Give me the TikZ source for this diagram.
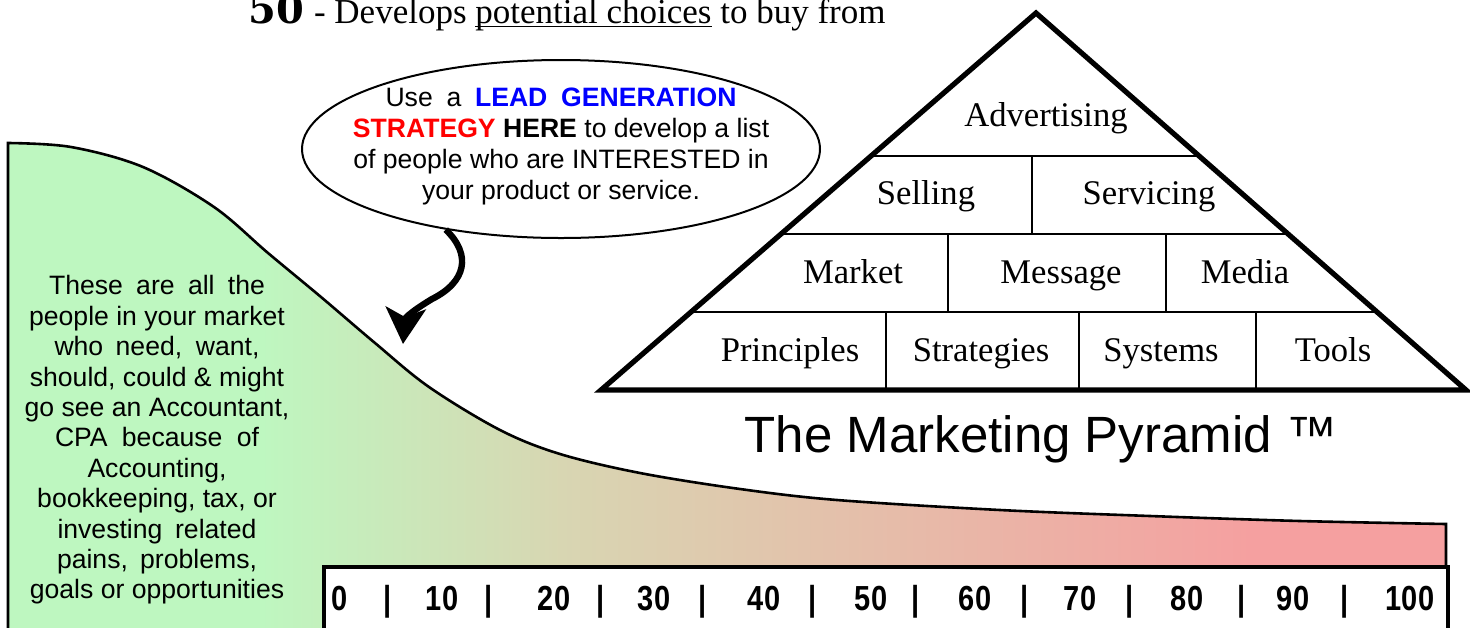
\documentclass[tikz,border=0pt]{standalone}
\usepackage{fontspec}
\setmainfont{Liberation Serif}
\newfontfamily\arialf{Liberation Sans}
\newfontfamily\slabf{DejaVu Serif}
\usetikzlibrary{shapes.geometric,arrows.meta,calc}
\definecolor{gcol}{RGB}{190,247,192}
\definecolor{mcol}{RGB}{216,214,178}
\definecolor{pcol}{RGB}{245,160,160}
\definecolor{leadblue}{RGB}{0,0,255}
\definecolor{leadred}{RGB}{255,0,0}
\newcommand\myul[1]{\setbox0\hbox{#1}\rlap{\rule[-2.2pt]{\wd0}{0.8pt}}\box0\relax}
\begin{document}
\begin{tikzpicture}[x=0.5pt,y=-0.5pt,
  pyrlabel/.style={font=\fontsize{17.3}{20}\selectfont, anchor=base, inner sep=0pt},
  numlabel/.style={font=\arialf\bfseries\fontsize{14.5}{16}\selectfont, anchor=base, inner sep=0pt},
  bodytext/.style={font=\arialf\fontsize{13.3}{15.2}\selectfont, align=center, inner sep=0pt},
  outline/.style={line width=1.3pt},
  pyrline/.style={line width=1.4pt},
  pyrouter/.style={line width=2.6pt, line join=miter}]
\useasboundingbox (0,0) rectangle (1470,627);
% shaded market curve
\begin{scope}
  \clip (8,650) -- plot[smooth,tension=0.55] coordinates {(8,143) (71,147) (143,167) (214,207) (268,253) (321,297) (375,343) (429,387) (500,430) (560,454) (640,473) (740,489) (837,500) (1000,510) (1150,516) (1300,521) (1446,524)} -- (1446,650) -- cycle;
  \fill[gcol] (0,100) rectangle (262,660);
  \shade[left color=gcol, right color=mcol] (260,100) rectangle (562,660);
  \shade[left color=mcol, right color=pcol] (560,100) rectangle (1252,660);
  \fill[pcol] (1250,100) rectangle (1470,660);
\end{scope}
\draw[outline] (8,650) -- plot[smooth,tension=0.55] coordinates {(8,143) (71,147) (143,167) (214,207) (268,253) (321,297) (375,343) (429,387) (500,430) (560,454) (640,473) (740,489) (837,500) (1000,510) (1150,516) (1300,521) (1446,524)} -- (1446,600);
% number bar
\draw[line width=2pt, fill=white] (324,567) rectangle (1448,660);
\foreach \x/\t in {340/0, 388/|, 442/10, 489/|, 554/20, 601/|, 654/30, 703/|, 764/40, 813/|, 871/50, 916/|, 975/60, 1025/|, 1080/70, 1130/|, 1187/80, 1242/|, 1293/90, 1345/|, 1410/100}
  \node[numlabel] (num\x) at (\x,610) {\scalebox{1}[1.2]{\t}};
% left text
\node[bodytext] (lefttext) at (157,440) {\makebox[108pt][s]{These are all the}\\
people in your market\\
\makebox[102.5pt][s]{who need, want,}\\
should, could \& might\\
go see an Accountant,\\
\makebox[102pt][s]{CPA because of}\\
Accounting,\\
bookkeeping, tax, or\\
\makebox[99.5pt][s]{investing related}\\
\makebox[100pt][s]{pains, problems,}\\
goals or opportunities};
% bubble
\node[ellipse, draw, line width=1pt, fill=white, minimum width=259pt, minimum height=89pt, inner sep=0pt] (bubble) at (561,149) {};
\node[bodytext, font=\arialf\fontsize{13.3}{15.5}\selectfont] (bubbletext) at (561,146) {\makebox[175.5pt][s]{Use a {\bfseries\color{leadblue}LEAD GENERATION}}\\
{\bfseries\color{leadred}STRATEGY} \textbf{HERE} to develop a list\\
of people who are INTERESTED in\\
your product or service.};
\coordinate (tip) at (403,344);
\draw[line width=3.2pt, -{Stealth[length=18pt,width=20pt,inset=4.5pt]}] (bubble.215) .. controls (472,255) and (466,282) .. (432,299) .. controls (412,311) and (405,318) .. (tip);
% pyramid
\coordinate (apex) at (1036,13);
\coordinate (bl) at (601,390);
\coordinate (br) at (1466,390);
\draw[pyrline] ($(apex)!0.3793!(bl)$) -- ($(apex)!0.3793!(br)$);
\draw[pyrline] ($(apex)!0.5862!(bl)$) -- ($(apex)!0.5862!(br)$);
\draw[pyrline] ($(apex)!0.7931!(bl)$) -- ($(apex)!0.7931!(br)$);
\draw[pyrline] (1032,156) -- (1032,234);
\draw[pyrline] (948,234) -- (948,312);
\draw[pyrline] (1166,234) -- (1166,312);
\draw[pyrline] (886,312) -- (886,390);
\draw[pyrline] (1079,312) -- (1079,390);
\draw[pyrline] (1256,312) -- (1256,390);
\draw[pyrouter] (apex) -- (bl) -- (br) -- cycle;
\node[pyrlabel] (advertising) at (1046,126) {Advertising};
\node[pyrlabel] (selling) at (926,204) {Selling};
\node[pyrlabel] (servicing) at (1149,204) {Servicing};
\node[pyrlabel] (market) at (853,283) {Market};
\node[pyrlabel] (message) at (1061,283) {Message};
\node[pyrlabel] (media) at (1245,283) {Media};
\node[pyrlabel] (principles) at (790,361) {Principles};
\node[pyrlabel] (strategies) at (981,361) {Strategies};
\node[pyrlabel] (systems) at (1161,361) {Systems};
\node[pyrlabel] (tools) at (1333,361) {Tools};
\node[font=\arialf\fontsize{25.5}{30}\selectfont, anchor=base, inner sep=0pt] (title) at (1041,452) {The Marketing Pyramid ™};
% heading
\node[anchor=base west, inner sep=0pt] (heading) at (248,23) {{\slabf\bfseries\fontsize{20}{20}\selectfont 50}\hspace{5pt}{\fontsize{17.5}{20}\selectfont - Develops \myul{potential choices} to buy from}};
\end{tikzpicture}
\end{document}
